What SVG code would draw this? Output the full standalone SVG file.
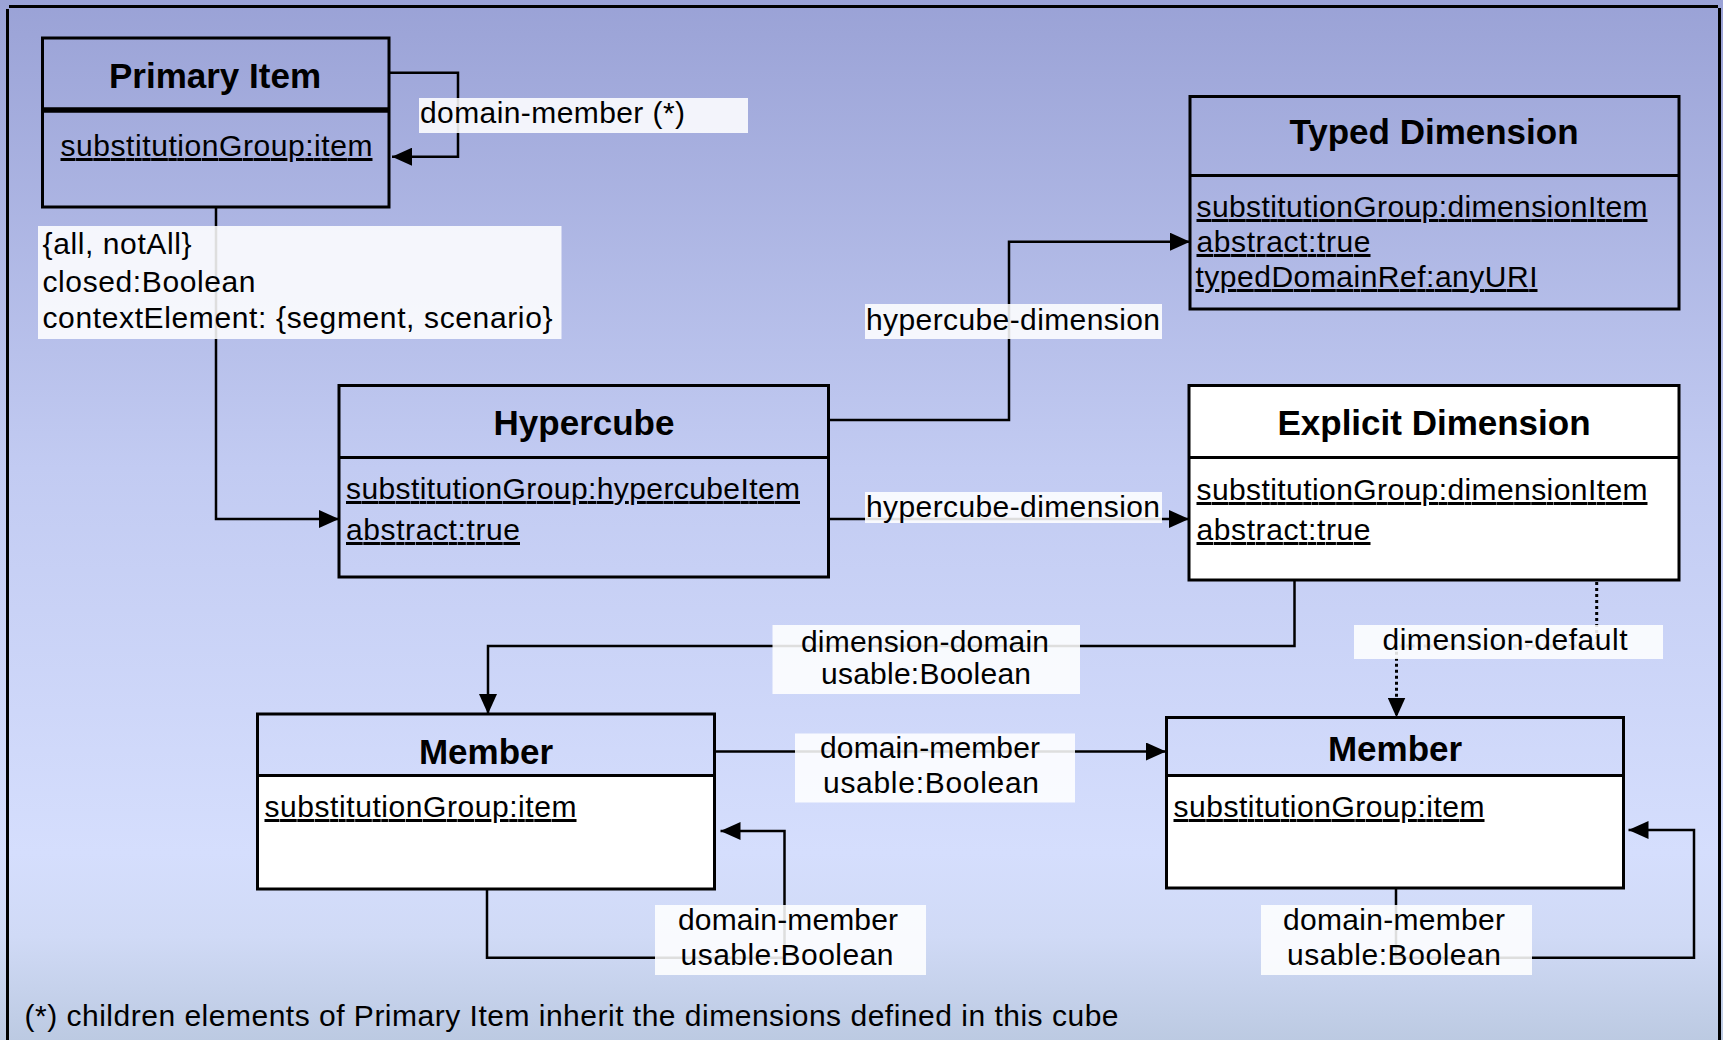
<svg xmlns="http://www.w3.org/2000/svg" width="1723" height="1040" viewBox="0 0 1723 1040">
<defs>
<linearGradient id="bgGrad" x1="0" y1="0" x2="0" y2="1">
<stop offset="0" stop-color="#9aa2d6"/>
<stop offset="0.45" stop-color="#c2cbf2"/>
<stop offset="0.82" stop-color="#d5defd"/>
<stop offset="0.9" stop-color="#d0daf6"/>
<stop offset="1" stop-color="#bccae2"/>
</linearGradient>
<marker id="arr" viewBox="0 0 20 18" refX="20" refY="9" markerWidth="20" markerHeight="18" markerUnits="userSpaceOnUse" orient="auto">
<path d="M0,0 L20,9 L0,18 z" fill="#000"/>
</marker>
<style>
.box{fill:none;stroke:#000;stroke-width:3}
.wfill{fill:#fff;stroke:none}
.div{stroke:#000;stroke-width:3}
.hdr{font-family:"Liberation Sans",Arial,sans-serif;font-weight:bold;font-size:35px;text-anchor:middle;fill:#000}
.attr{font-family:"Liberation Sans",Arial,sans-serif;font-size:30px;text-decoration:underline;fill:#000}
.lbl{font-family:"Liberation Sans",Arial,sans-serif;font-size:30px;fill:#000}
.mid{text-anchor:middle}
.lblbg{fill:#fff;fill-opacity:0.87}
.conn{fill:none;stroke:#000;stroke-width:2.5;marker-end:url(#arr)}
.dot{stroke-dasharray:3 3;stroke-width:3}
.frame{fill:none;stroke:#000;stroke-width:3}
</style>
</defs>
<rect x="0" y="0" width="1723" height="1040" fill="url(#bgGrad)"/>
<path class="frame" d="M7.5,1040 V9 M9,6.5 H1718 M1719.5,8 V1040"/>

<g id="connectors">
<path class="conn" d="M389,72.7 H458 V156.7 H392"/>
<path class="conn" d="M216,207 V519 H339"/>
<path class="conn" d="M829,420 H1009 V241.7 H1190"/>
<path class="conn" d="M829,519 H1189"/>
<path class="conn" d="M1294.5,580 V646 H488 V714"/>
<path class="conn dot" d="M1596.7,582 V646 H1396.5 V717.5"/>
<path class="conn" d="M714.4,751.5 H1166"/>
<path class="conn" d="M487,889 V957.7 H784.5 V831 H720.5"/>
<path class="conn" d="M1396,888 V957.7 H1694 V830 H1628.5"/>
<rect class="lblbg" x="419" y="98" width="329" height="35"/>
<text class="lbl" x="420" y="123" textLength="265" lengthAdjust="spacing">domain-member (*)</text>
<rect class="lblbg" x="38" y="226" width="523.5" height="113"/>
<text class="lbl" x="42.5" y="254" textLength="149" lengthAdjust="spacing">{all, notAll}</text>
<text class="lbl" x="42.5" y="292" textLength="213" lengthAdjust="spacing">closed:Boolean</text>
<text class="lbl" x="42.5" y="328" textLength="510" lengthAdjust="spacing">contextElement: {segment, scenario}</text>
<rect class="lblbg" x="865" y="304" width="297" height="35"/>
<text class="lbl" x="866" y="330" textLength="294" lengthAdjust="spacing">hypercube-dimension</text>
<rect class="lblbg" x="865" y="492" width="297" height="31"/>
<text class="lbl" x="866" y="517" textLength="294" lengthAdjust="spacing">hypercube-dimension</text>
<rect class="lblbg" x="772.5" y="625" width="307.5" height="69"/>
<text class="lbl mid" x="925" y="652" textLength="248" lengthAdjust="spacing">dimension-domain</text>
<text class="lbl mid" x="926" y="684" textLength="210" lengthAdjust="spacing">usable:Boolean</text>
<rect class="lblbg" x="1354" y="625" width="309" height="34"/>
<text class="lbl mid" x="1505" y="650" textLength="245" lengthAdjust="spacing">dimension-default</text>
<rect class="lblbg" x="795" y="733.5" width="280" height="69"/>
<text class="lbl mid" x="930" y="758" textLength="220" lengthAdjust="spacing">domain-member</text>
<text class="lbl mid" x="931" y="793" textLength="216" lengthAdjust="spacing">usable:Boolean</text>
<rect class="lblbg" x="655" y="905" width="271" height="70"/>
<text class="lbl mid" x="788" y="930" textLength="220" lengthAdjust="spacing">domain-member</text>
<text class="lbl mid" x="787" y="965" textLength="213" lengthAdjust="spacing">usable:Boolean</text>
<rect class="lblbg" x="1261" y="905" width="271" height="70"/>
<text class="lbl mid" x="1394" y="930" textLength="222" lengthAdjust="spacing">domain-member</text>
<text class="lbl mid" x="1394" y="965" textLength="214" lengthAdjust="spacing">usable:Boolean</text>
</g>

<g id="primary-item">
<rect class="box" x="42.5" y="38" width="346.5" height="169"/>
<line x1="42.5" y1="110" x2="389" y2="110" stroke="#000" stroke-width="5.5"/>
<text class="hdr" x="215" y="88">Primary Item</text>
<text class="attr" x="60.5" y="156" textLength="312" lengthAdjust="spacing">substitutionGroup:item</text>
</g>

<g id="typed-dimension">
<rect class="box" x="1190" y="96.5" width="489" height="212.5"/>
<line class="div" x1="1190" y1="175.5" x2="1679" y2="175.5"/>
<text class="hdr" x="1434" y="144">Typed Dimension</text>
<text class="attr" x="1196.5" y="217" textLength="451" lengthAdjust="spacing">substitutionGroup:dimensionItem</text>
<text class="attr" x="1196.5" y="252" textLength="174" lengthAdjust="spacing">abstract:true</text>
<text class="attr" x="1195.5" y="287" textLength="342" lengthAdjust="spacing">typedDomainRef:anyURI</text>
</g>

<g id="hypercube">
<rect class="box" x="339" y="385.5" width="489.5" height="191.5"/>
<line class="div" x1="339" y1="457.5" x2="828.5" y2="457.5"/>
<text class="hdr" x="584" y="435">Hypercube</text>
<text class="attr" x="346" y="499" textLength="454" lengthAdjust="spacing">substitutionGroup:hypercubeItem</text>
<text class="attr" x="346" y="540" textLength="174" lengthAdjust="spacing">abstract:true</text>
</g>

<g id="explicit-dimension">
<rect class="wfill" x="1189" y="385.5" width="490" height="194.5"/>
<rect class="box" x="1189" y="385.5" width="490" height="194.5"/>
<line class="div" x1="1189" y1="457.5" x2="1679" y2="457.5"/>
<text class="hdr" x="1434" y="435">Explicit Dimension</text>
<text class="attr" x="1196.5" y="500" textLength="451" lengthAdjust="spacing">substitutionGroup:dimensionItem</text>
<text class="attr" x="1196.5" y="540" textLength="174" lengthAdjust="spacing">abstract:true</text>
</g>

<g id="member-left">
<rect class="wfill" x="257.5" y="775.5" width="457" height="113.5"/>
<rect class="box" x="257.5" y="714" width="457" height="175"/>
<line class="div" x1="257.5" y1="775.5" x2="714.5" y2="775.5"/>
<text class="hdr" x="486" y="764">Member</text>
<text class="attr" x="264.5" y="817" textLength="312" lengthAdjust="spacing">substitutionGroup:item</text>
</g>

<g id="member-right">
<rect class="wfill" x="1166.5" y="775.5" width="457" height="112.5"/>
<rect class="box" x="1166.5" y="717.5" width="457" height="170.5"/>
<line class="div" x1="1166.5" y1="775.5" x2="1623.5" y2="775.5"/>
<text class="hdr" x="1395" y="761">Member</text>
<text class="attr" x="1173.5" y="817" textLength="311" lengthAdjust="spacing">substitutionGroup:item</text>
</g>

<text class="lbl" x="24.5" y="1026" textLength="1094" lengthAdjust="spacing">(*) children elements of Primary Item inherit the dimensions defined in this cube</text>
</svg>
